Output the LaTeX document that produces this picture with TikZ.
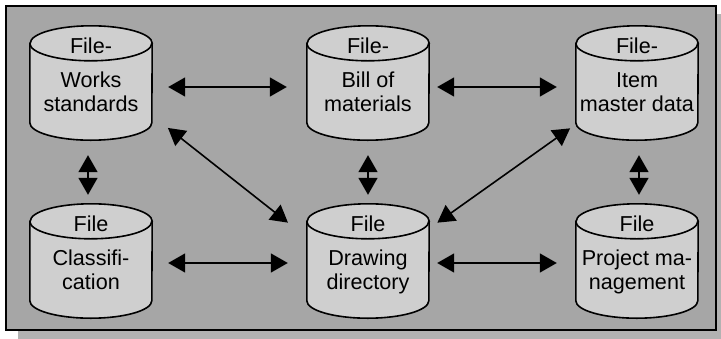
\documentclass[tikz,border=0pt]{standalone}
\usepackage{fontspec}
\setmainfont{Liberation Sans}
\usetikzlibrary{arrows.meta}
\definecolor{panelgray}{HTML}{A6A6A6}
\definecolor{shadowgray}{HTML}{B2B2B2}
\definecolor{drumgray}{HTML}{CFCFCF}
\begin{document}
\begin{tikzpicture}[x=1pt,y=-1pt,
  drum/.style={rectangle,minimum width=122pt,minimum height=114pt,inner sep=0pt},
  drumline/.style={line width=1.6pt},
  caption/.style={anchor=base,inner sep=0pt,align=center,font=\fontsize{21.6}{24}\selectfont},
  dbl/.style={{Triangle[length=17pt,width=19pt]}-{Triangle[length=17pt,width=19pt]},line width=1.6pt}]
  % bounding box
  \useasboundingbox (0,0) rectangle (721,338);
  % Panel
  \fill[shadowgray] (18,14) rectangle (727,344);
  \draw[line width=1.6pt,fill=panelgray] (6,6) rectangle (716,330);
  % Cylinders
  \node[drum] (ws) at (91,83) {};
  \node[drum] (bom) at (368,83) {};
  \node[drum] (im) at (637,83) {};
  \node[drum] (cl) at (91,261) {};
  \node[drum] (dd) at (368,261) {};
  \node[drum] (pm) at (637,261) {};
  \foreach \n in {ws,bom,im,cl,dd,pm} {
    \draw[drumline,fill=drumgray] ([yshift=-17.5pt]\n.north west) -- ([yshift=17.5pt]\n.south west)
      arc[start angle=180,end angle=360,x radius=61pt,y radius=17.5pt]
      -- ([yshift=-17.5pt]\n.north east)
      arc[start angle=0,end angle=180,x radius=61pt,y radius=17.5pt] -- cycle;
    \draw[drumline] ([yshift=-17.5pt]\n.north west)
      arc[start angle=180,end angle=360,x radius=61pt,y radius=17.5pt];
  }
  % Labels
  \node[caption] at ([yshift=-28pt]ws.north) {File-};
  \node[caption] at ([yshift=-86pt]ws.north) {Works\\standards};
  \node[caption] at ([yshift=-28pt]bom.north) {File-};
  \node[caption] at ([yshift=-86pt]bom.north) {Bill of\\materials};
  \node[caption] at ([yshift=-28pt]im.north) {File-};
  \node[caption] at ([yshift=-86pt]im.north) {Item\\master data};
  \node[caption] at ([yshift=-28pt]cl.north) {File};
  \node[caption] at ([yshift=-86pt]cl.north) {Classifi-\\cation};
  \node[caption] at ([yshift=-28pt]dd.north) {File};
  \node[caption] at ([yshift=-86pt]dd.north) {Drawing\\directory};
  \node[caption] at ([yshift=-28pt]pm.north) {File};
  \node[caption] at ([yshift=-86pt]pm.north) {Project ma-\\nagement};
  % Arrows
  \draw[dbl,shorten <=16pt,shorten >=20pt] ([yshift=-4pt]ws.east) -- ([yshift=-4pt]bom.west);
  \draw[dbl,shorten <=8pt,shorten >=19pt] ([yshift=-4pt]bom.east) -- ([yshift=-4pt]im.west);
  \draw[dbl,shorten <=16pt,shorten >=19pt] ([yshift=-2pt]cl.east) -- ([yshift=-2pt]dd.west);
  \draw[dbl,shorten <=8pt,shorten >=19pt] ([yshift=-2pt]dd.east) -- ([yshift=-2pt]pm.west);
  \draw[dbl,shorten <=15pt,shorten >=9pt] ([xshift=-3pt]ws.south) -- ([xshift=-3pt]cl.north);
  \draw[dbl,shorten <=15pt,shorten >=9pt] (bom.south) -- (dd.north);
  \draw[dbl,shorten <=15pt,shorten >=9pt] ([xshift=2pt]im.south) -- ([xshift=2pt]pm.north);
  \draw[dbl,shorten <=20pt,shorten >=24pt] (ws.-28) -- (dd.159);
  \draw[dbl,shorten <=10pt,shorten >=7pt] (dd.28) -- (im.214);
\end{tikzpicture}
\end{document}
